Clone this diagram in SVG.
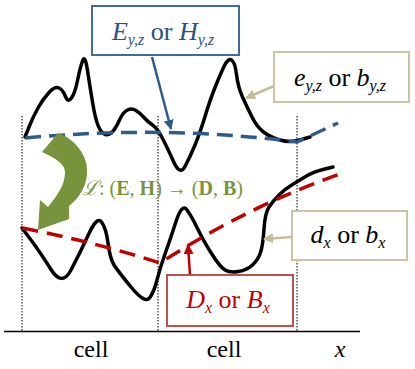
<svg xmlns="http://www.w3.org/2000/svg" width="415" height="369" viewBox="0 0 415 369" font-family="Liberation Serif">
<style>
.lbl{font-size:26px;text-anchor:middle;}
.sub{font-size:16px;font-style:italic;}
.it{font-style:italic;}
.box{fill:#fff;stroke-width:2;}
.curve{fill:none;stroke:#000;stroke-width:3.5;stroke-linejoin:round;stroke-linecap:round;}
.dot{stroke:#000;stroke-width:1;stroke-dasharray:1.5 1.5;}
</style>
<defs>
<marker id="mb" viewBox="0 0 10 10" refX="9" refY="5" markerWidth="4" markerHeight="4" orient="auto" markerUnits="strokeWidth"><path d="M0,0 L10,5 L0,10 Z" fill="#2F5A8C"/></marker>
<marker id="mt" viewBox="0 0 10 10" refX="9" refY="5" markerWidth="4" markerHeight="4" orient="auto" markerUnits="strokeWidth"><path d="M0,0 L10,5 L0,10 Z" fill="#C4BD97"/></marker>
<marker id="mr" viewBox="0 0 10 10" refX="9" refY="5" markerWidth="4" markerHeight="4" orient="auto" markerUnits="strokeWidth"><path d="M0,0 L10,5 L0,10 Z" fill="#C00000"/></marker>
</defs>
<g id="axes">
<line class="dot" x1="22" y1="116" x2="22" y2="331"/>
<line class="dot" x1="158" y1="116" x2="158" y2="331"/>
<line class="dot" x1="297" y1="116" x2="297" y2="331"/>
<line x1="4" y1="331.5" x2="360" y2="331.5" stroke="#000" stroke-width="1.5"/>
<text x="91" y="357" font-size="24" text-anchor="middle" font-family="Liberation Serif">cell</text>
<text x="224" y="357" font-size="24" text-anchor="middle" font-family="Liberation Serif">cell</text>
<text x="340" y="357" font-size="24" text-anchor="middle" font-style="italic" font-family="Liberation Serif">x</text>
</g>
<g id="curves">
<path class="curve" d="M25,137 L29,127 Q33,117 38,108 Q43,99 49,92.5 Q55,86 59,88 Q63,90 65.5,96.5 Q68,103 71.5,98 Q75,93 77.5,80.5 Q80,68 82.5,61 Q85,54 87.5,70.5 Q90,87 92.5,102 Q95,117 97.5,124 Q100,131 103.5,133.5 Q107,136 111,133 Q115,130 119,121 Q123,112 127.5,110 Q132,108 136,110.5 Q140,113 144,117.5 Q148,122 152.5,125 Q157,128 162,137.5 Q167,147 173.5,161.5 Q180,176 185,166.5 Q190,157 195,145 Q200,133 205,116.5 Q210,100 215,87.5 Q220,75 224,66.5 Q228,58 231.5,60 Q235,62 236.5,74.5 Q238,87 242.5,97 Q247,107 252,117 Q257,127 263.5,132 Q270,137 280,140 Q290,143 300,140 L310,137"/>
<path class="curve" d="M22,228 L31,240 Q40,252 51,269.5 Q62,287 71,270 Q80,253 88.5,234.5 Q97,216 101.5,222 Q106,228 108,243 Q110,258 113.5,264 Q117,270 131,287 Q145,304 149.5,298 Q154,292 157,280 Q160,268 165,254 Q170,240 176,221.5 Q182,203 187,210 Q192,217 197.5,228.5 Q203,240 211.5,253.5 Q220,267 225,270 Q230,273 238.5,271.5 Q247,270 252.5,265 Q258,260 260.5,252.5 Q263,245 264,229 Q265,213 269,207 Q273,201 279,195 Q285,189 292.5,184.5 Q300,180 306.5,176 Q313,172 323,169.5 L333,167"/>
<path d="M25,138 Q165,125 297,142 L338,123" fill="none" stroke="#2F5A8C" stroke-width="3.5" stroke-dasharray="16 8"/>
<path d="M22,228 Q95,242 160,263 Q250,205 343,173" fill="none" stroke="#C00000" stroke-width="3.5" stroke-dasharray="16 9"/>
</g>
<g id="transform">
<path d="M42,152 L58,133 C70,137 82,148 86,162 C90,180 82,196 69,206 L69,219 L38,230 L40,200 L48,207 C57,196 65,185 65,172 C65,164 55,158 42,152 Z" fill="#77933C"/>
<text x="82" y="195" font-size="20" fill="#77933C" font-family="Liberation Serif"><tspan font-style="italic">ℒ</tspan>: (<tspan font-weight="bold">E</tspan>, <tspan font-weight="bold">H</tspan>) → (<tspan font-weight="bold">D</tspan>, <tspan font-weight="bold">B</tspan>)</text>
</g>
<g id="connectors">
<line x1="152" y1="57" x2="171" y2="129" stroke="#2F5A8C" stroke-width="2.5" marker-end="url(#mb)"/>
<line x1="274" y1="86" x2="246" y2="98" stroke="#C4BD97" stroke-width="2.5" marker-end="url(#mt)"/>
<line x1="292" y1="237" x2="264" y2="239" stroke="#C4BD97" stroke-width="2.5" marker-end="url(#mt)"/>
<line x1="190" y1="275" x2="188" y2="245" stroke="#C00000" stroke-width="2.5" marker-end="url(#mr)"/>
</g>
<g id="node-E">
<rect class="box" x="92" y="6" width="147" height="49" stroke="#3F6A9C"/>
<text class="lbl" x="163" y="40" fill="#2B5285" font-family="Liberation Serif"><tspan class="it">E</tspan><tspan class="sub" dy="5">y,z</tspan><tspan dy="-5"> or </tspan><tspan class="it">H</tspan><tspan class="sub" dy="5">y,z</tspan></text>
</g>
<g id="node-e">
<rect class="box" x="274" y="52" width="135" height="50" stroke="#C9C3A3"/>
<text class="lbl" x="340" y="86" fill="#000" font-family="Liberation Serif"><tspan class="it">e</tspan><tspan class="sub" dy="5">y,z</tspan><tspan dy="-5"> or </tspan><tspan class="it">b</tspan><tspan class="sub" dy="5">y,z</tspan></text>
</g>
<g id="node-d">
<rect class="box" x="292" y="211" width="115" height="49" stroke="#C9C3A3"/>
<text class="lbl" x="348" y="243" fill="#000" font-family="Liberation Serif"><tspan class="it">d</tspan><tspan class="sub" dy="5">x</tspan><tspan dy="-5"> or </tspan><tspan class="it">b</tspan><tspan class="sub" dy="5">x</tspan></text>
</g>
<g id="node-D">
<rect class="box" x="167" y="275" width="126" height="51" stroke="#C0504D"/>
<text class="lbl" x="228" y="308" fill="#C00000" font-family="Liberation Serif"><tspan class="it">D</tspan><tspan class="sub" dy="5">x</tspan><tspan dy="-5"> or </tspan><tspan class="it">B</tspan><tspan class="sub" dy="5">x</tspan></text>
</g>
</svg>
